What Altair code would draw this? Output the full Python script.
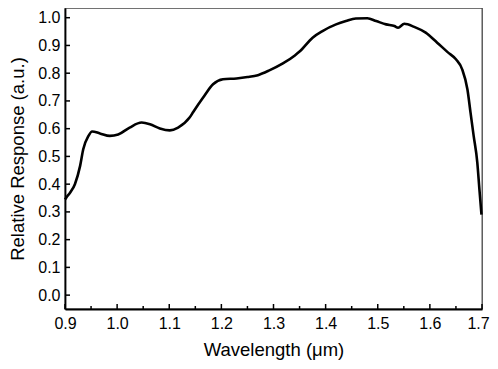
import altair as alt
import pandas as pd

wavelength = [0.900, 0.903, 0.910, 0.919, 0.929, 0.935, 0.945, 0.952, 0.967, 0.986,
              1.002, 1.024, 1.047, 1.063, 1.082, 1.101, 1.117, 1.139, 1.146, 1.165,
              1.184, 1.203, 1.229, 1.250, 1.270, 1.292, 1.318, 1.341, 1.350, 1.375,
              1.394, 1.420, 1.439, 1.458, 1.480, 1.497, 1.516, 1.532, 1.539, 1.551,
              1.570, 1.592, 1.614, 1.634, 1.650, 1.662, 1.672, 1.678, 1.684, 1.691,
              1.695, 1.699]
response = [0.345, 0.353, 0.370, 0.400, 0.466, 0.526, 0.574, 0.590, 0.583, 0.574,
            0.579, 0.604, 0.622, 0.616, 0.601, 0.594, 0.604, 0.640, 0.660, 0.712,
            0.760, 0.778, 0.781, 0.786, 0.793, 0.810, 0.835, 0.864, 0.878, 0.928,
            0.952, 0.976, 0.988, 0.997, 0.998, 0.988, 0.976, 0.970, 0.964, 0.978,
            0.967, 0.946, 0.910, 0.876, 0.850, 0.814, 0.742, 0.658, 0.574, 0.478,
            0.382, 0.290]

x_major = [0.9, 1.0, 1.1, 1.2, 1.3, 1.4, 1.5, 1.6, 1.7]
x_minor = [0.95, 1.05, 1.15, 1.25, 1.35, 1.45, 1.55, 1.65]
y_major = [0.0, 0.1, 0.2, 0.3, 0.4, 0.5, 0.6, 0.7, 0.8, 0.9, 1.0]

W, H = 417, 301
FONT = "Liberation Sans"

df = pd.DataFrame({"w": wavelength, "r": response})
xscale = alt.Scale(domain=[0.9, 1.7], nice=False, zero=False)
yscale = alt.Scale(domain=[-0.05, 1.035], nice=False, zero=False)

common = dict(ticks=False, domainColor="black", domainWidth=1.8,
              labelFont=FONT, labelFontSize=16, labelColor="black",
              titleFont=FONT, titleFontSize=18.5, titleFontWeight="normal",
              titleColor="black", grid=False, labelFlush=False, format=".1f")
xaxis = alt.Axis(title="Wavelength (\u03bcm)", values=x_major, labelPadding=6, titlePadding=9,
                 labelOffset={"condition": {"test": "datum.value >= 1.69", "value": -4}, "value": 0},
                 **common)
yaxis = alt.Axis(title="Relative Response (a.u.)", values=y_major, labelPadding=5, titlePadding=10, **common)

line = alt.Chart(df).mark_line(color="black", strokeWidth=2.6, interpolate="monotone").encode(
    x=alt.X("w:Q", scale=xscale, axis=xaxis, title="Wavelength (\u03bcm)"),
    y=alt.Y("r:Q", scale=yscale, axis=yaxis, title="Relative Response (a.u.)"),
)

xmaj = alt.Chart(pd.DataFrame({"w": x_major})).mark_rule(color="black", strokeWidth=1.5).encode(
    x=alt.X("w:Q", scale=xscale, axis=xaxis, title="Wavelength (\u03bcm)"),
    y=alt.value(H), y2=alt.value(H - 5))
xmin = alt.Chart(pd.DataFrame({"w": x_minor})).mark_rule(color="black", strokeWidth=1.5).encode(
    x=alt.X("w:Q", scale=xscale, axis=xaxis, title="Wavelength (\u03bcm)"),
    y=alt.value(H), y2=alt.value(H - 3))
ymaj = alt.Chart(pd.DataFrame({"r": y_major})).mark_rule(color="black", strokeWidth=1.5).encode(
    y=alt.Y("r:Q", scale=yscale, axis=yaxis, title="Relative Response (a.u.)"),
    x=alt.value(0), x2=alt.value(5))

chart = alt.layer(line, xmaj, xmin, ymaj).properties(
    width=W, height=H,
    autosize=alt.AutoSizeParams(type="none"),
    padding={"left": 57, "top": 0, "right": 8, "bottom": 52},
    background="white",
).configure_view(stroke="#444", strokeWidth=1.3)

chart.save("out.html", embed_options={"renderer": "svg", "actions": False})
